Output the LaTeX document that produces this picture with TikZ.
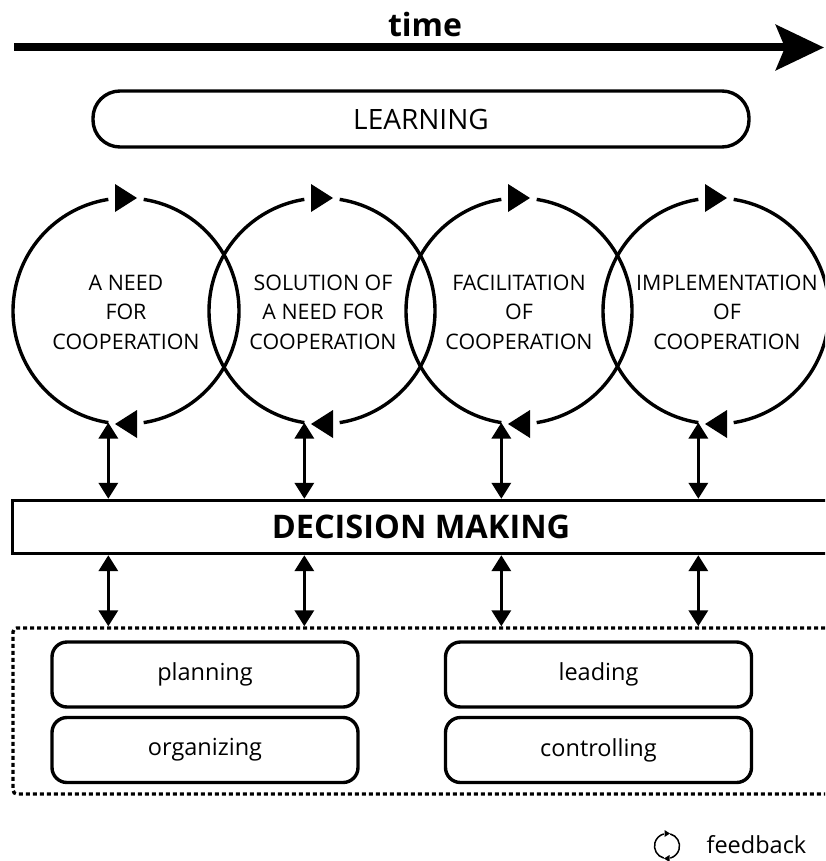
\documentclass[tikz,border=0pt]{standalone}
\usepackage{fontspec}
\setmainfont{Open Sans}
\usetikzlibrary{shapes,arrows.meta,calc}

\tikzset{
  phase/.style={align=center, font=\fontsize{21.4}{29.5}\selectfont},
  cycle/.style={line width=3.4pt},
  dbl/.style={line width=3.4pt, {Triangle[length=16pt,width=19pt]}-{Triangle[length=16pt,width=19pt]}},
  func/.style={draw, line width=3.4pt, rounded corners=15pt, minimum width=306pt,
    minimum height=65pt, font=\fontsize{23.5}{27}\selectfont},
}

\begin{document}
\begin{tikzpicture}[x=1pt,y=1pt]
\clip (0,0) rectangle (825,-861);

% time axis
\coordinate (t0) at (14,-47.5);
\coordinate (t1) at (824,-47.5);
\draw[line width=8pt, -{Stealth[length=48pt,width=45pt,inset=9pt]}] (t0)--(t1);
\node[anchor=base, font=\fontsize{32}{36}\selectfont\bfseries] (time) at (425,-37) {time};

\node[draw, line width=3.4pt, rounded corners=27pt, minimum width=656pt, minimum height=56pt,
  font=\fontsize{28}{31}\selectfont] (learn) at (421,-119) {LEARNING};

% cycles
\foreach \i/\x in {1/126,2/322,3/519,4/716} {
  \coordinate (c\i) at (\x,-311);
  \draw[cycle] (c\i) ++(261:113) arc[start angle=261, end angle=99, radius=113];
  \draw[cycle] (c\i) ++(81:113) arc[start angle=81, end angle=-81, radius=113];
  \coordinate (c\i-in) at ($(c\i)+(261:113)$);
  \fill ($(c\i)+(-11,127)$) -- ($(c\i)+(11,113)$) -- ($(c\i)+(-11,99)$) -- cycle;
  \fill ($(c\i)+(11,-99)$) -- ($(c\i)+(-11,-113)$) -- ($(c\i)+(11,-127)$) -- cycle;
}

\node[phase] (p1) at (126,-312) {A NEED\\FOR\\COOPERATION};
\node[phase] (p2) at (323,-312) {SOLUTION OF\\A NEED FOR\\COOPERATION};
\node[phase] (p3) at (519,-312) {FACILITATION\\OF\\COOPERATION};
\node[phase] (p4) at (727,-312) {IMPLEMENTATION\\OF\\COOPERATION};

\node[draw, line width=3.4pt, minimum width=817pt, minimum height=53pt,
  font=\fontsize{32.5}{36}\selectfont\bfseries] (dm) at (421,-527) {DECISION MAKING};

% management functions
\node[draw, line width=3.4pt, dash pattern=on 4pt off 3pt, rounded corners=4pt, minimum width=830pt,
  minimum height=166pt] (mf) at (428,-711) {};
\node[func] (plan) at (205,-674.5) {planning};
\node[func] (org) at (205,-750) {organizing};
\node[func] (lead) at (598.5,-674.5) {leading};
\node[func] (ctrl) at (598.5,-750) {controlling};

\foreach \i in {1,...,4} {
  \draw[dbl] (c\i-in) -- (c\i-in |- dm.north);
  \draw[dbl] (c\i-in |- dm.south) -- (c\i-in |- mf.north);
}

% legend
\node[anchor=base west, font=\fontsize{23.5}{27}\selectfont] (fb) at (703,-853) {feedback};
\coordinate (ic) at (667,-846);
\draw[line width=1.5pt] (ic) ++(255:12.5) arc[start angle=255, end angle=105, radius=12.5];
\draw[line width=1.5pt] (ic) ++(75:12.5) arc[start angle=75, end angle=-75, radius=12.5];
\fill ($(ic)+(-2.5,16)$) -- ($(ic)+(3,12.5)$) -- ($(ic)+(-2.5,9)$) -- cycle;
\fill ($(ic)+(2.5,-9)$) -- ($(ic)+(-3,-12.5)$) -- ($(ic)+(2.5,-16)$) -- cycle;

\end{tikzpicture}
\end{document}
